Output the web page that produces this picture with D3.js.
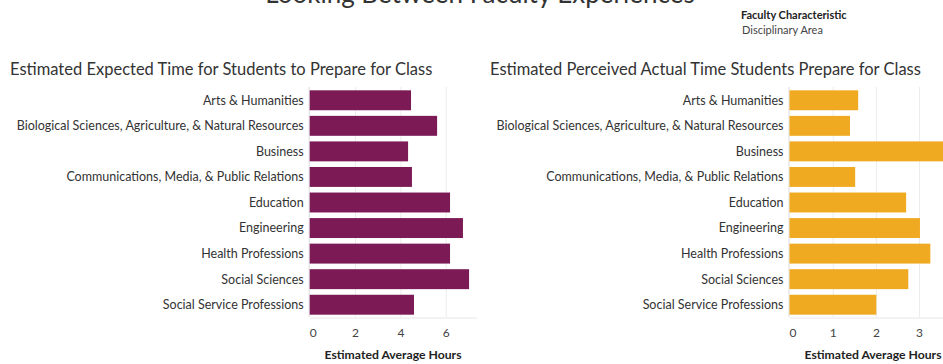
<!DOCTYPE html>
<html>
<head>
<meta charset="utf-8">
<script src="https://cdn.jsdelivr.net/npm/d3@7"></script>
<style>
  body { margin: 0; background: #fff; }
  svg { display: block; font-family: Lato, "Open Sans", sans-serif; }
</style>
</head>
<body>
<svg id="chart" width="943" height="364"></svg>
<script>
// Disciplinary areas shown in both panels
const categories = [
  "Arts & Humanities",
  "Biological Sciences, Agriculture, & Natural Resources",
  "Business",
  "Communications, Media, & Public Relations",
  "Education",
  "Engineering",
  "Health Professions",
  "Social Sciences",
  "Social Service Professions"
];

// Estimated average hours of expected preparation time
const expectedHours = [4.47, 5.62, 4.34, 4.51, 6.19, 6.76, 6.19, 7.03, 4.60];
// Estimated average hours students actually prepare (as perceived)
const perceivedHours = [1.59, 1.40, 3.75, 1.52, 2.70, 3.02, 3.26, 2.75, 2.01];

const expectedTicks = [0, 2, 4, 6];
const perceivedTicks = [0, 1, 2, 3];

const mainTitle = "Looking Between Faculty Experiences";
const legendTitle = "Faculty Characteristic";
const legendValue = "Disciplinary Area";
const axisTitle = "Estimated Average Hours";

const svg = d3.select("#chart");

svg.append("text")
  .attr("x", 480).attr("y", 3)
  .attr("text-anchor", "middle")
  .attr("font-size", 26).attr("fill", "#333")
  .text(mainTitle);

svg.append("text")
  .attr("x", 741).attr("y", 19)
  .attr("font-size", 11).attr("font-weight", "bold").attr("fill", "#222")
  .text(legendTitle);
svg.append("text")
  .attr("x", 742).attr("y", 34)
  .attr("font-size", 11).attr("fill", "#444")
  .text(legendValue);

function panel(opts) {
  const g = svg.append("g");
  const x = d3.scaleLinear().domain([0, opts.xMax]).range([opts.x0, opts.x1]);
  const y = d3.scaleBand().domain(categories).range([87.5, 317.5]).paddingInner(0.22).paddingOuter(0.11);

  g.append("text")
    .attr("x", opts.titleX).attr("y", 75)
    .attr("font-size", 16.5).attr("fill", "#333")
    .text(opts.title);

  // vertical gridlines
  g.selectAll("line.grid").data(opts.ticks.filter(t => t > 0)).join("line")
    .attr("class", "grid")
    .attr("x1", d => x(d) + 0.5).attr("x2", d => x(d) + 0.5)
    .attr("y1", 87).attr("y2", 317)
    .attr("stroke", "#ececec").attr("stroke-width", 1);

  // zero line
  g.append("line")
    .attr("x1", x(0) - 0.5).attr("x2", x(0) - 0.5)
    .attr("y1", 87).attr("y2", 317)
    .attr("stroke", "#dcdcdc");

  g.selectAll("rect.bar").data(categories).join("rect")
    .attr("class", "bar")
    .attr("x", x(0))
    .attr("y", d => y(d))
    .attr("height", y.bandwidth())
    .attr("width", (d, i) => x(opts.values[i]) - x(0))
    .attr("fill", opts.color);

  // category labels
  g.selectAll("text.cat").data(categories).join("text")
    .attr("class", "cat")
    .attr("x", x(0) - 6)
    .attr("y", d => y(d) + y.bandwidth() / 2)
    .attr("dy", "0.35em")
    .attr("text-anchor", "end")
    .attr("font-size", 12.5).attr("fill", "#333")
    .text(d => d);

  // bottom axis
  const axis = d3.axisBottom(x).tickValues(opts.ticks).tickSize(0).tickPadding(11).tickFormat(d3.format("d"));
  const ag = g.append("g").attr("transform", "translate(0,317.5)").call(axis);
  ag.select(".domain").attr("stroke", "#e6e6e6");
  ag.selectAll("text").attr("font-size", 12).attr("fill", "#444").attr("font-family", "Lato, sans-serif");
  // first label sits just inside the zero line
  ag.selectAll(".tick").filter(d => d === 0).select("text").attr("dx", 3);

  g.append("text")
    .attr("x", opts.axisTitleX).attr("y", 359)
    .attr("text-anchor", "middle")
    .attr("font-size", 12.2).attr("font-weight", "bold").attr("fill", "#222")
    .text(axisTitle);
}

panel({
  title: "Estimated Expected Time for Students to Prepare for Class",
  titleX: 10,
  values: expectedHours,
  ticks: expectedTicks,
  xMax: 7.35,
  x0: 309.7, x1: 309.7 + 7.35 * 22.67,
  color: "#7b1a55",
  axisTitleX: 393
});

panel({
  title: "Estimated Perceived Actual Time Students Prepare for Class",
  titleX: 490,
  values: perceivedHours,
  ticks: perceivedTicks,
  xMax: 4,
  x0: 789.5, x1: 789.5 + 4 * 43.2,
  color: "#efaa22",
  axisTitleX: 873
});
</script>
</body>
</html>
